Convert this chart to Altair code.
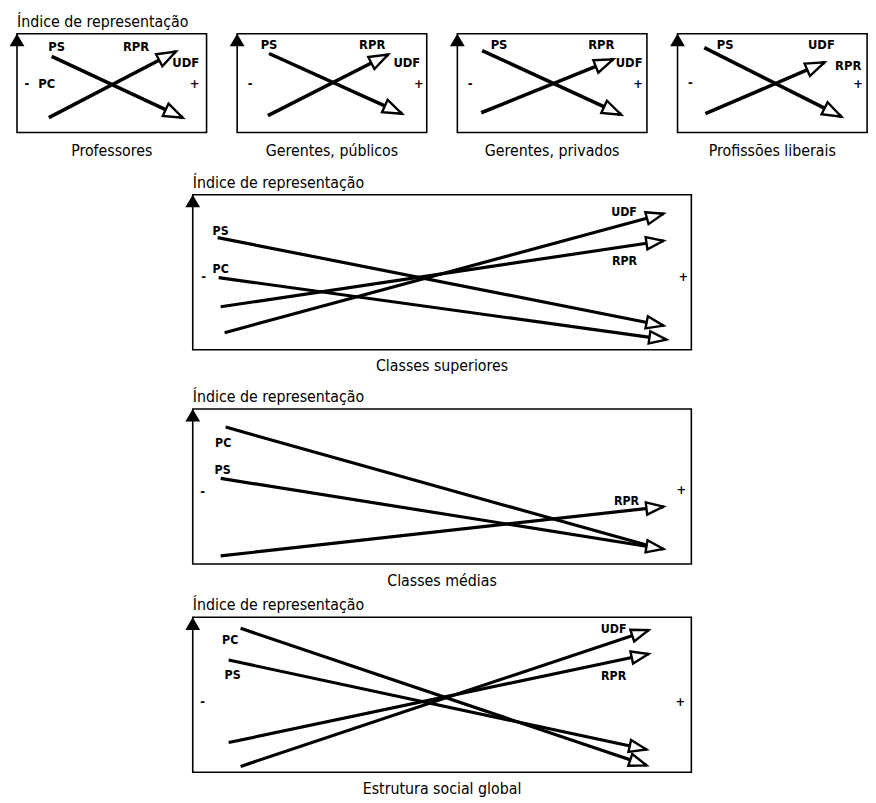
import math
import altair as alt
import pandas as pd

FONT_TXT = "DejaVu Sans Condensed, DejaVu Sans, sans-serif"
FONT_LBL = "DejaVu Sans Condensed, DejaVu Sans, sans-serif"
Y_TITLE = "Índice de representação"

# ---- panels -------------------------------------------------------------
PANEL_CAPTION = ["Professores", "Gerentes, públicos", "Gerentes, privados",
                 "Profissões liberais", "Classes superiores", "Classes médias",
                 "Estrutura social global"]
PANEL_HAS_TITLE = [True, False, False, False, True, True, True]
DOMAIN = [0, 100]

# ---- arrows (one row per line, normalised 0-100 index units) ---------------
LINE_PANEL = [1, 1, 2, 2, 3, 3, 4, 4, 5, 5, 5, 5, 6, 6, 6, 7, 7, 7, 7]
LINE_NAME = ["PS", "RPR", "PS", "RPR", "PS", "RPR", "PS", "UDF",
             "PS", "PC", "RPR", "UDF", "PC", "PS", "RPR",
             "PC", "PS", "RPR", "UDF"]
LINE_X0 = [18.3, 16.8, 16.8, 16.2, 13.1, 12.6, 14.1, 14.7,
           5.0, 5.2, 5.6, 6.4, 6.6, 5.6, 5.6,
           9.6, 7.2, 7.2, 9.6]
LINE_Y0 = [77, 15, 80, 17, 83, 20, 86, 19,
           72.3, 46.5, 27.7, 11.0, 88.3, 55.2, 5.2,
           92.9, 72.4, 19.2, 3.8]
LINE_X1 = [87.4, 83.8, 86.9, 79.6, 86.4, 82.2, 86.4, 77.5,
           94.4, 95.0, 94.4, 94.4, 93.0, 94.4, 94.4,
           91.0, 91.0, 91.4, 91.4]
LINE_Y1 = [15, 82, 19, 79, 18, 74, 16, 71,
           15.5, 6.5, 70.3, 87.7, 10.4, 9.7, 37.0,
           4.5, 14.7, 76.3, 91.7]
LINE_ARROW = [True, True, True, True, True, True, True, True,
              True, True, True, True, False, True, True,
              True, True, True, True]

# ---- party labels --------------------------------------------------------
LABEL_PANEL = [1, 1, 1, 1, 2, 2, 2, 3, 3, 3, 4, 4, 4,
               5, 5, 5, 5, 6, 6, 6, 7, 7, 7, 7]
LABEL_TEXT = ["PS", "RPR", "UDF", "PC", "PS", "RPR", "UDF", "PS", "RPR", "UDF",
              "PS", "UDF", "RPR",
              "PS", "PC", "UDF", "RPR", "PC", "PS", "RPR", "PC", "PS", "UDF", "RPR"]
LABEL_X = [20.9, 62.8, 89.0, 15.7, 16.8, 71.2, 89.5, 22.0, 75.9, 90.6,
           25.1, 75.9, 90.0,
           5.6, 5.6, 86.5, 86.6, 6.1, 6.0, 87.0, 7.5, 8.0, 84.4, 84.4]
LABEL_Y = [87, 87, 70, 49, 89, 89, 70, 89, 89, 70,
           89, 89, 67,
           76.5, 52.0, 89.0, 57.4, 78.2, 60.4, 40.9, 85.6, 62.8, 92.5, 62.2]

# ---- "-" and "+" signs on each panel -------------------------------------
MINUS_X = [5.2, 6.8, 6.8, 6.8, 2.2, 2.0, 2.0]
MINUS_Y = [49, 49, 49, 50, 47.1, 46.1, 45.5]
PLUS_X = [93.7, 95.8, 95.3, 95.3, 98.4, 98.0, 97.8]
PLUS_Y = [49, 49, 49, 49, 47.1, 47.4, 45.5]

W_TOP, H_TOP = 192, 100
W_BOT, H_BOT = 505, 157

lines = pd.DataFrame({"panel": LINE_PANEL, "name": LINE_NAME, "x0": LINE_X0,
                      "y0": LINE_Y0, "x1": LINE_X1, "y1": LINE_Y1,
                      "arrow": LINE_ARROW})
labels = pd.DataFrame({"panel": LABEL_PANEL, "text": LABEL_TEXT,
                       "x": LABEL_X, "y": LABEL_Y})

HEAD = "M-2,-0.72L0,0L-2,0.72Z"     # open arrow head, tip at origin
UP = "M0,0L1,1.7L-1,1.7Z"            # filled axis arrow, tip at origin


def panel(i):
    top = i <= 4
    w, h = (W_TOP, H_TOP) if top else (W_BOT, H_BOT)
    ld = lines[lines.panel == i].copy()
    ld["ang"] = [
        math.degrees(math.atan2(-(b1 - b0) * h / 100.0, (a1 - a0) * w / 100.0)) % 360
        for a0, b0, a1, b1 in zip(ld.x0, ld.y0, ld.x1, ld.y1)
    ]
    hd = ld[ld.arrow]
    lab = labels[labels.panel == i]
    signs = pd.DataFrame({"x": [MINUS_X[i - 1], PLUS_X[i - 1]],
                          "y": [MINUS_Y[i - 1], PLUS_Y[i - 1]],
                          "text": ["-", "+"]})
    one = pd.DataFrame({"caption": [PANEL_CAPTION[i - 1]], "title": [Y_TITLE]})
    sc = alt.Scale(domain=DOMAIN, nice=False, zero=False)

    def X(f):
        return alt.X(f"{f}:Q", scale=sc, axis=None)

    def Y(f):
        return alt.Y(f"{f}:Q", scale=sc, axis=None)

    rules = alt.Chart(ld).mark_rule(color="black", strokeWidth=3.6 if top else 3.2,
                                    strokeCap="butt").encode(
        x=X("x0"), y=Y("y0"), x2="x1:Q", y2="y1:Q")
    heads = alt.Chart(hd).mark_point(
        shape=HEAD, size=361 if top else 300, fill="white", stroke="black",
        strokeWidth=2.4, opacity=1, fillOpacity=1, strokeJoin="miter").encode(
        x=X("x1"), y=Y("y1"), angle=alt.Angle("ang:Q", scale=None))
    txt = alt.Chart(lab).mark_text(
        font=FONT_LBL, fontSize=13 if top else 12.5, fontWeight="bold",
        color="black", align="center", baseline="middle").encode(
        x=X("x"), y=Y("y"), text="text:N")
    sg = alt.Chart(signs).mark_text(
        font=FONT_LBL, fontSize=13, fontWeight="bold", color="black",
        align="center", baseline="middle").encode(
        x=X("x"), y=Y("y"), text="text:N")
    axarrow = alt.Chart(one).mark_point(
        shape=UP, size=225, filled=True, color="black", opacity=1).encode(
        x=alt.X(datum=DOMAIN[0], scale=sc, axis=None),
        y=alt.Y(datum=DOMAIN[1], scale=sc, axis=None))
    cap = alt.Chart(one).mark_text(
        font=FONT_TXT, fontSize=16, color="black", align="center",
        baseline="alphabetic", dy=24 if top else 22).encode(
        x=alt.X(datum=(DOMAIN[0] + DOMAIN[1]) / 2, scale=sc, axis=None),
        y=alt.Y(datum=DOMAIN[0], scale=sc, axis=None),
        text="caption:N")
    layers = [rules, heads, txt, sg, axarrow, cap]
    if PANEL_HAS_TITLE[i - 1]:
        layers.append(alt.Chart(one).mark_text(
            font=FONT_TXT, fontSize=16, color="black", align="left",
            baseline="alphabetic", dy=-7).encode(
            x=alt.X(datum=DOMAIN[0], scale=sc, axis=None),
            y=alt.Y(datum=DOMAIN[1], scale=sc, axis=None),
            text="title:N"))
    return alt.layer(*layers).properties(width=w, height=h)


row1 = alt.hconcat(*[panel(i) for i in range(1, 5)], spacing=31, bounds="flush")
lower = alt.vconcat(panel(6), panel(7), spacing=7)
bottom = alt.vconcat(panel(5), lower, spacing=13)
chart = alt.vconcat(row1, bottom, spacing=14, center=True).properties(
    padding={"left": 0, "top": 0, "right": 0, "bottom": 0},
    background="white",
).configure_view(stroke="black", strokeWidth=1.6)

chart.save("out.html", embed_options={"renderer": "svg", "actions": False})
